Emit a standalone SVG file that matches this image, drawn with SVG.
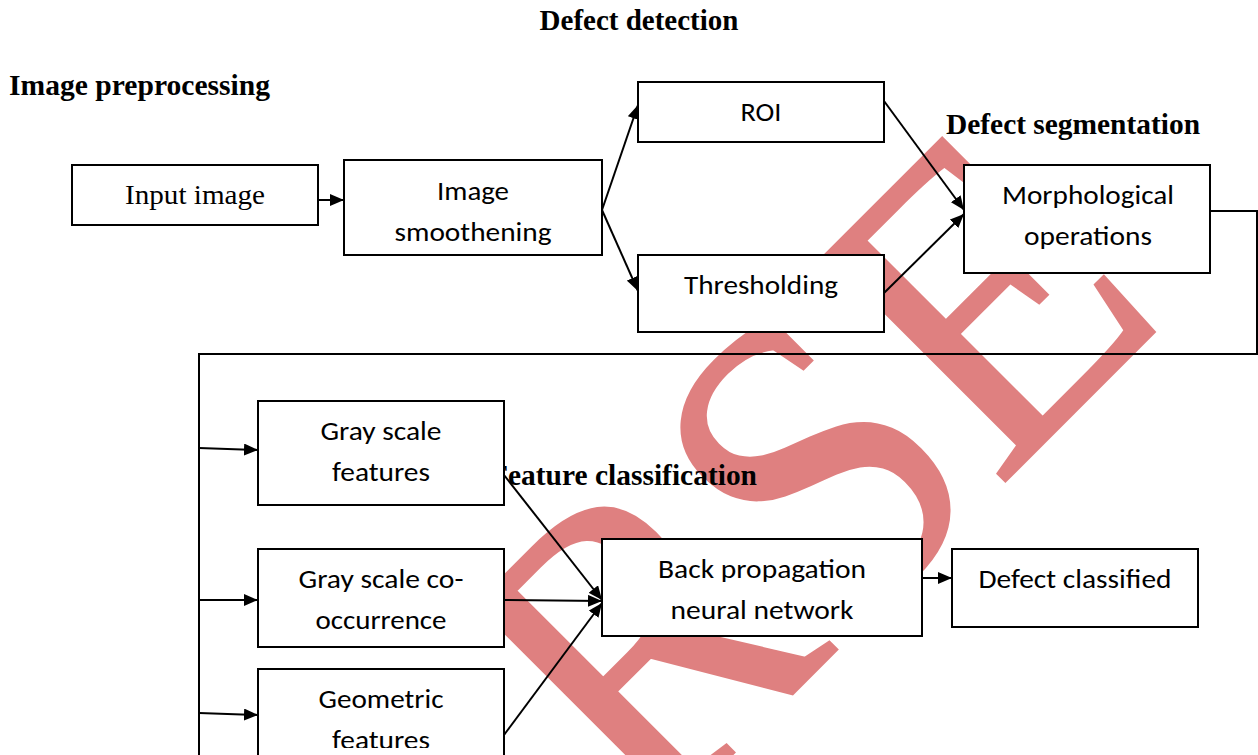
<svg xmlns="http://www.w3.org/2000/svg" width="1258" height="755" viewBox="0 0 1258 755">
<style>
.box{fill:#fff;stroke:#000;stroke-width:2}
.lbl{font-family:Carlito,Lato,"Liberation Sans",sans-serif;font-size:26px;fill:#000;text-anchor:middle}
.tr{font-family:"Liberation Serif",serif;font-size:27px;fill:#000;text-anchor:middle}
.hdr{font-family:"Liberation Serif",serif;font-size:29px;font-weight:bold;fill:#000}
.ln{stroke:#000;stroke-width:2;fill:none}
.wm{font-family:"Liberation Serif",serif;font-size:440px;fill:#df8080;stroke:#df8080;stroke-width:2}
</style>
<defs>
<marker id="ah" viewBox="0 0 14 12" refX="14" refY="6" markerWidth="14" markerHeight="12" markerUnits="userSpaceOnUse" orient="auto">
<path d="M0,0 L14,6 L0,12 z" fill="#000"/>
</marker>
<clipPath id="clipSmooth"><rect x="344" y="160" width="258" height="85"/></clipPath>
<clipPath id="clipGeo"><rect x="258" y="669" width="246" height="79"/></clipPath>
</defs>
<rect width="1258" height="755" fill="#fff"/>
<g id="watermark">
<text class="wm" transform="translate(647,840) rotate(-45) scale(0.92,1)">RSE</text>
</g>
<g id="headers">
<text class="hdr" x="639" y="30" text-anchor="middle">Defect detection</text>
<text class="hdr" x="9" y="95" textLength="261" lengthAdjust="spacingAndGlyphs">Image preprocessing</text>
<text class="hdr" x="946" y="134" textLength="254" lengthAdjust="spacingAndGlyphs">Defect segmentation</text>
<text class="hdr" x="490" y="485" textLength="267" lengthAdjust="spacingAndGlyphs">Feature classification</text>
</g>
<g id="connectors">
<line class="ln" x1="318" y1="200" x2="344" y2="200" marker-end="url(#ah)"/>
<line class="ln" x1="602" y1="210" x2="638" y2="105" marker-end="url(#ah)"/>
<line class="ln" x1="602" y1="210" x2="638" y2="291" marker-end="url(#ah)"/>
<line class="ln" x1="884" y1="101" x2="964" y2="210" marker-end="url(#ah)"/>
<line class="ln" x1="884" y1="293" x2="964" y2="214" marker-end="url(#ah)"/>
<polyline class="ln" points="1210,211 1257,211 1257,354 199,354 199,755"/>
<line class="ln" x1="199" y1="448" x2="258" y2="450" marker-end="url(#ah)"/>
<line class="ln" x1="199" y1="600" x2="258" y2="600" marker-end="url(#ah)"/>
<line class="ln" x1="199" y1="713" x2="258" y2="715" marker-end="url(#ah)"/>
<line class="ln" x1="504" y1="475" x2="602" y2="600" marker-end="url(#ah)"/>
<line class="ln" x1="504" y1="600" x2="602" y2="601" marker-end="url(#ah)"/>
<line class="ln" x1="504" y1="735" x2="602" y2="603" marker-end="url(#ah)"/>
<line class="ln" x1="922" y1="578" x2="952" y2="578" marker-end="url(#ah)"/>
</g>
<g id="input-image">
<rect class="box" x="72" y="165" width="246" height="60"/>
<text class="tr" x="195" y="204" textLength="140" lengthAdjust="spacingAndGlyphs">Input image</text>
</g>
<g id="image-smoothening">
<rect class="box" x="344" y="160" width="258" height="95"/>
<text class="lbl" x="473" y="200" textLength="72" lengthAdjust="spacingAndGlyphs">Image</text>
<text class="lbl" x="473" y="241" textLength="157" lengthAdjust="spacingAndGlyphs" clip-path="url(#clipSmooth)">smoothening</text>
</g>
<g id="roi">
<rect class="box" x="638" y="82" width="246" height="60"/>
<text class="lbl" x="761" y="121" textLength="41" lengthAdjust="spacingAndGlyphs">ROI</text>
</g>
<g id="thresholding">
<rect class="box" x="638" y="255" width="246" height="77"/>
<text class="lbl" x="761" y="294" textLength="154" lengthAdjust="spacingAndGlyphs">Thresholding</text>
</g>
<g id="morphological">
<rect class="box" x="964" y="165" width="246" height="108"/>
<text class="lbl" x="1088" y="204" textLength="172" lengthAdjust="spacingAndGlyphs">Morphological</text>
<text class="lbl" x="1088" y="245" textLength="128" lengthAdjust="spacingAndGlyphs">operations</text>
</g>
<g id="gray-scale-features">
<rect class="box" x="258" y="401" width="246" height="104"/>
<text class="lbl" x="381" y="440" textLength="121" lengthAdjust="spacingAndGlyphs">Gray scale</text>
<text class="lbl" x="381" y="481" textLength="98" lengthAdjust="spacingAndGlyphs">features</text>
</g>
<g id="gray-scale-cooccurrence">
<rect class="box" x="258" y="549" width="246" height="98"/>
<text class="lbl" x="381" y="588" textLength="165" lengthAdjust="spacingAndGlyphs">Gray scale co-</text>
<text class="lbl" x="381" y="629" textLength="131" lengthAdjust="spacingAndGlyphs">occurrence</text>
</g>
<g id="geometric-features">
<rect class="box" x="258" y="669" width="246" height="100"/>
<text class="lbl" x="381" y="708" textLength="125" lengthAdjust="spacingAndGlyphs">Geometric</text>
<text class="lbl" x="381" y="749" textLength="98" lengthAdjust="spacingAndGlyphs" clip-path="url(#clipGeo)">features</text>
</g>
<g id="back-propagation">
<rect class="box" x="602" y="539" width="320" height="97"/>
<text class="lbl" x="762" y="578" textLength="208" lengthAdjust="spacingAndGlyphs">Back propagation</text>
<text class="lbl" x="762" y="619" textLength="183" lengthAdjust="spacingAndGlyphs">neural network</text>
</g>
<g id="defect-classified">
<rect class="box" x="952" y="549" width="246" height="78"/>
<text class="lbl" x="1075" y="588" textLength="193" lengthAdjust="spacingAndGlyphs">Defect classified</text>
</g>
</svg>
